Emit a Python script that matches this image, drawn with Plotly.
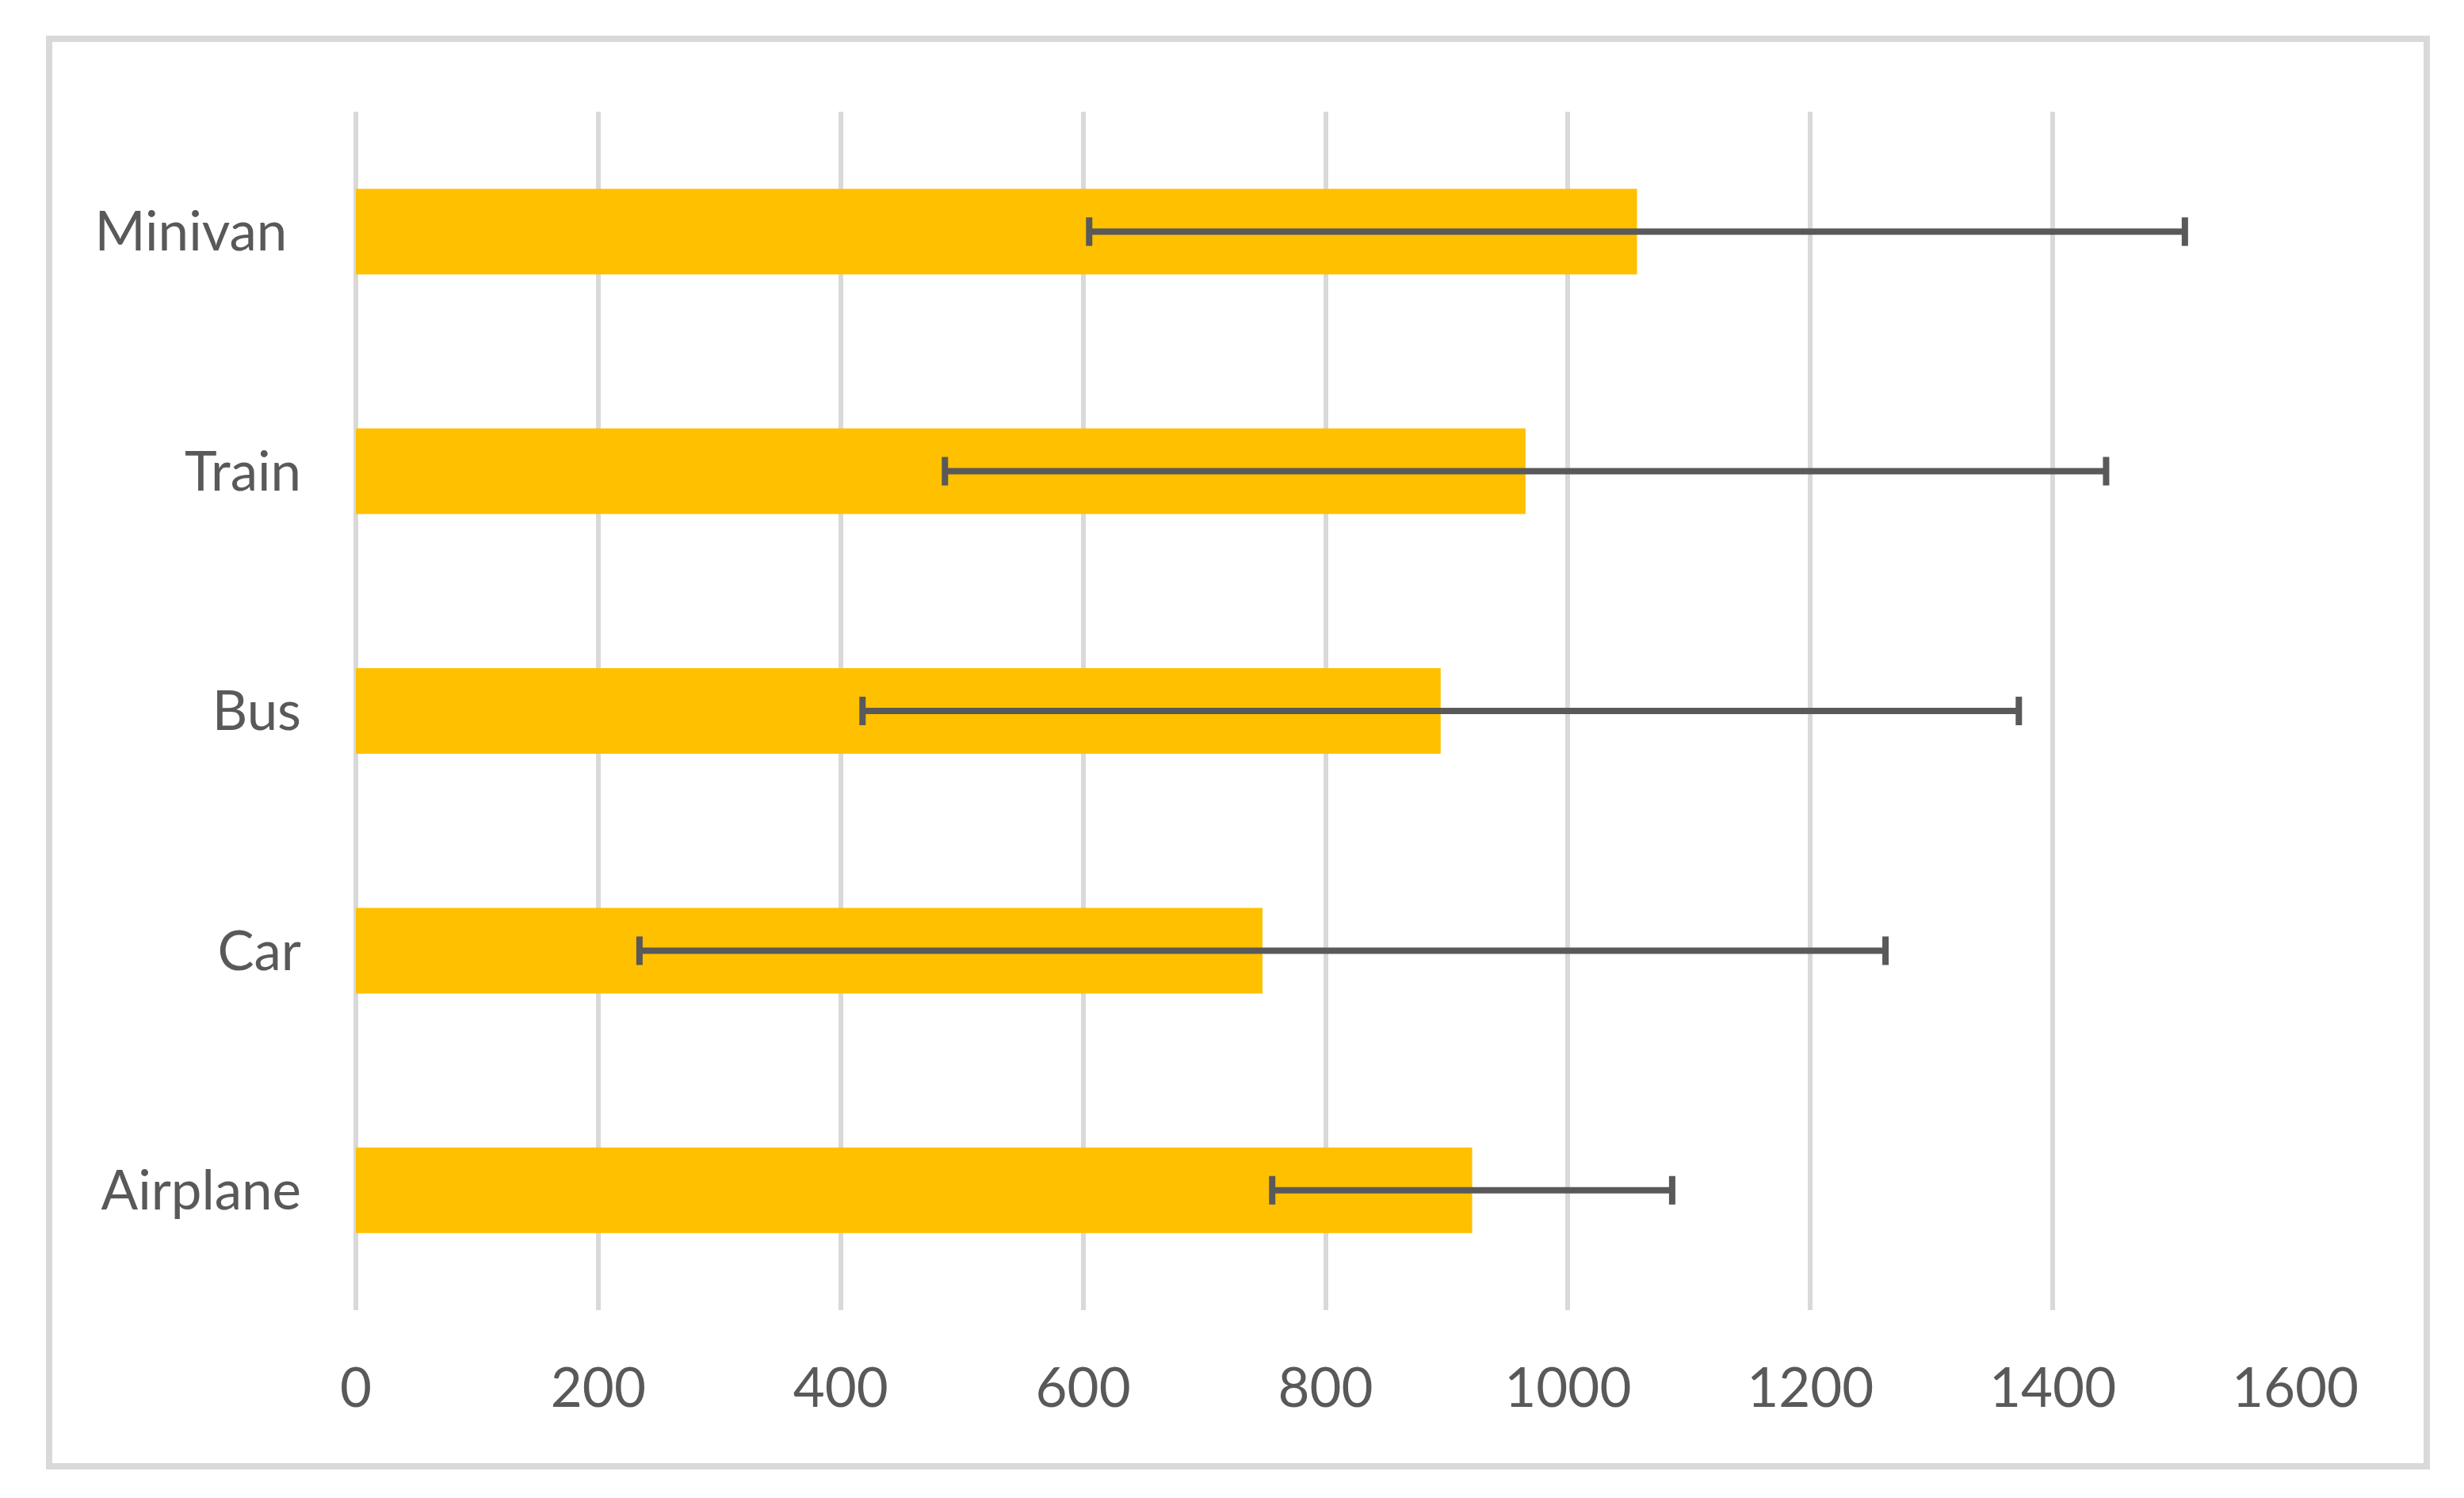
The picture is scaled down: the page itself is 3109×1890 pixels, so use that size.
import plotly.graph_objects as go

# data
modes = ["Airplane", "Car", "Bus", "Train", "Minivan\u00a0"]
means = [921, 748, 895, 965, 1057]
errors = [165, 514, 477, 479, 452]
x_ticks = [0, 200, 400, 600, 800, 1000, 1200, 1400, 1600]

W, H = 3109, 1890
OFF = 8  # page body margin shifts the plot by this much
L, R, T, B = 449 - OFF, 213 + OFF, 141 - OFF, 237 + OFF
pw, ph = W - L - R, H - T - B


def px(x):
    return (x - OFF - L) / pw


def py(y):
    return (H - B - (y - OFF)) / ph


fig = go.Figure()
fig.add_trace(go.Bar(
    x=means, y=modes, orientation='h',
    marker=dict(color='#FFC000', line=dict(width=0)),
    error_x=dict(type='data', array=errors, visible=True,
                 color='#595959', thickness=8, width=18),
))

fig.update_layout(
    width=W, height=H,
    margin=dict(l=L, r=R, t=T, b=B),
    paper_bgcolor='white', plot_bgcolor='white',
    bargap=0.643, showlegend=False,
    font=dict(family='Lato', size=69, color='#595959'),
    shapes=[dict(type='rect', xref='paper', yref='paper',
                 x0=px(62), x1=px(3062), y0=py(1850), y1=py(49),
                 line=dict(color='#D9D9D9', width=8), layer='below')],
)

fig.update_xaxes(range=[0, 1600], tickvals=x_ticks, showgrid=True,
                 gridcolor='#D9D9D9', gridwidth=6, zeroline=True,
                 zerolinecolor='#D9D9D9', zerolinewidth=6,
                 showline=False, ticks='', ticklabelstandoff=52)
fig.update_yaxes(showgrid=False, showline=False, ticks='',
                 ticklabelstandoff=68)

fig.write_html("out.html")
